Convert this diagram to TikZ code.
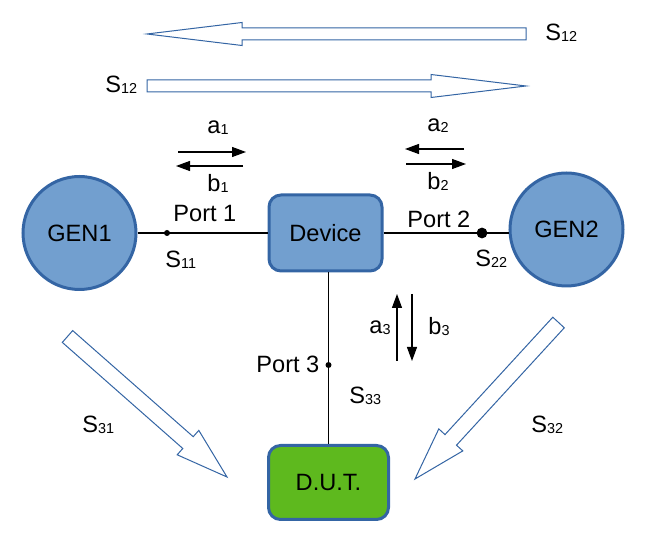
\documentclass[tikz,border=0pt]{standalone}
\usepackage{fontspec}
\setmainfont{Liberation Sans}
\usepackage{tikz}
\usetikzlibrary{arrows.meta}
\usepackage{xcolor}
\definecolor{boxblue}{HTML}{729FCF}
\definecolor{lineblue}{HTML}{3465A4}
\definecolor{dutgreen}{HTML}{5EB91E}
\newcommand{\sidx}[1]{\raisebox{-0.5pt}{\fontsize{7.2}{8}\selectfont #1}}

\begin{document}
\begin{tikzpicture}[x = .5pt, y = -.5pt, font = \fontsize{11.8}{14}\selectfont]
				    \tikzstyle{edge}=[draw,line width = .6pt,-,black!100]
				    \tikzstyle{wave}=[draw,line width = .6pt,-{Triangle[length=7pt,width=5pt]},black]
				    \tikzstyle{gen}=[draw=lineblue,line width = 1.5pt,circle,fill=boxblue,minimum size=56.5pt,inner sep=0pt]
				    \tikzstyle{block}=[draw=lineblue,line width = 1.5pt,rounded corners=6pt,fill=boxblue,minimum width=56.5pt,minimum height=38pt]
				    \tikzstyle{dot}=[circle,fill=black,inner sep=0pt,minimum size=3pt]
				    \tikzstyle{bigarrow}=[draw=lineblue,line width = .5pt,fill=white,line join=miter]
				    \tikzstyle{lbl}=[anchor=base west,inner sep=0pt]
				    \useasboundingbox (0,0) rectangle (666,539);
				    % flow arrows
				    \draw[bigarrow] (526,28) -- (242,28) -- (242,22.5) -- (147,34) -- (242,45.5) -- (242,40) -- (526,40) -- cycle;
				    \draw[bigarrow] (147,80) -- (431,80) -- (431,74.5) -- (526,86) -- (431,97.5) -- (431,92) -- (147,92) -- cycle;
				    \draw[bigarrow] (72.7,330.6) -- (193.2,436.7) -- (198.8,430.4) -- (227,477) -- (177.2,454.8) -- (182.8,448.5) -- (62.3,342.4) -- cycle;
				    \draw[bigarrow] (552.8,317.2) -- (445.0,434.6) -- (438.8,428.9) -- (415,479) -- (462.8,450.9) -- (456.5,445.2) -- (564.3,327.8) -- cycle;
				    % devices
				    \node[gen] (gen1) at (79.5,233) {GEN1};
				    \node[gen] (gen2) at (566.5,229.5) {GEN2};
				    \node[block] (dev) at (325.5,233) {Device};
				    \node[block,fill=dutgreen,minimum width=60pt,minimum height=37pt] (dut) at (328.5,482.5) {D.U.T.};
				    \draw[edge] (gen1) -- (dev);
				    \draw[edge] (dev.east) -- (dev.east -| gen2.west);
				    \draw[edge] (dut.north) -- (dut.north |- dev.south);
				    \node[dot] (p1) at (167,233) {};
				    \node[dot,minimum size=5.4pt] (p2) at (482,233) {};
				    \node[dot] (p3) at (328.5,365) {};
				    % waves
				    \coordinate (a1s) at (178,152); \coordinate (a1e) at (246,152);
				    \coordinate (b1s) at (243,166); \coordinate (b1e) at (176,166);
				    \coordinate (a2s) at (464,149); \coordinate (a2e) at (405,149);
				    \coordinate (b2s) at (406,164); \coordinate (b2e) at (466,164);
				    \coordinate (a3s) at (397,361); \coordinate (a3e) at (397,294);
				    \coordinate (b3s) at (412,294); \coordinate (b3e) at (412,361);
				    \draw[wave] (a1s) -- (a1e);
				    \draw[wave] (b1s) -- (b1e);
				    \draw[wave] (a2s) -- (a2e);
				    \draw[wave] (b2s) -- (b2e);
				    \draw[wave] (a3s) -- (a3e);
				    \draw[wave] (b3s) -- (b3e);
				    % labels
				    \node[lbl] (s12t) at (545,41) {S\sidx{12}};
				    \node[lbl] (s12b) at (105,93) {S\sidx{12}};
				    \node[lbl] (la1) at (207,134) {a\sidx{1}};
				    \node[lbl] (lb1) at (207,192) {b\sidx{1}};
				    \node[lbl] (la2) at (427,132) {a\sidx{2}};
				    \node[lbl] (lb2) at (427,190) {b\sidx{2}};
				    \node[lbl] (la3) at (369,334) {a\sidx{3}};
				    \node[lbl] (lb3) at (428,335) {b\sidx{3}};
				    \node[lbl] (port1) at (173,222) {Port 1};
				    \node[lbl] (port2) at (407,228) {Port 2};
				    \node[lbl] (port3) at (256,373) {Port 3};
				    \node[lbl] (s11) at (165,268) {S\sidx{11}};
				    \node[lbl] (s22) at (475,267) {S\sidx{22}};
				    \node[lbl] (s33) at (349,404) {S\sidx{33}};
				    \node[lbl] (s31) at (82,433) {S\sidx{31}};
				    \node[lbl] (s32) at (531,433) {S\sidx{32}};;
				\end{tikzpicture}
\end{document}
